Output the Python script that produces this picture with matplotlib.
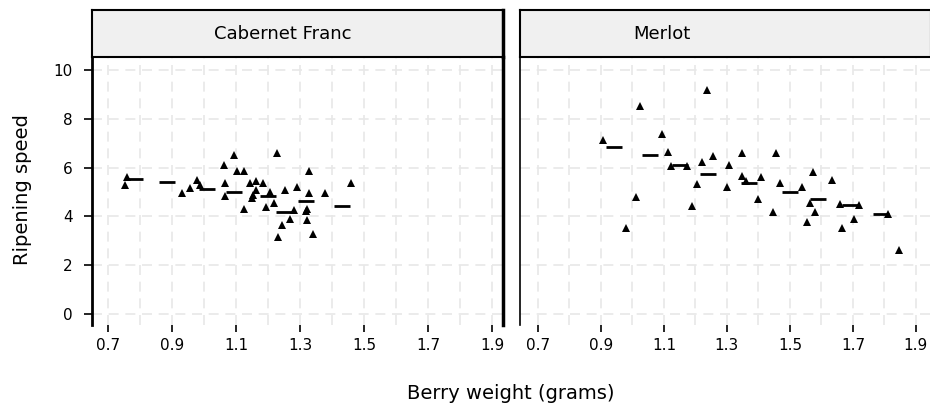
import matplotlib.pyplot as plt

# Cabernet Franc
cf_x = [0.758, 0.753, 0.930, 0.956, 0.977, 0.988, 1.095, 1.063, 1.102, 1.125,
        1.066, 1.066, 1.125, 1.227, 1.144, 1.161, 1.184, 1.153, 1.206, 1.194,
        1.219, 1.253, 1.290, 1.328, 1.329, 1.378, 1.458, 1.243, 1.232, 1.269,
        1.281, 1.321, 1.321, 1.340, 1.163, 1.149, 1.319]
cf_y = [5.63, 5.29, 4.94, 5.15, 5.48, 5.29, 6.52, 6.11, 5.84, 5.84,
        5.36, 4.82, 4.29, 6.61, 5.36, 5.43, 5.36, 4.88, 5.01, 4.40,
        4.54, 5.08, 5.22, 5.84, 4.94, 4.94, 5.36, 3.65, 3.14, 3.88,
        4.26, 4.29, 3.85, 3.28, 5.08, 4.74, 4.22]
cf_dash_x = [0.785, 0.885, 1.010, 1.095, 1.200, 1.250, 1.320, 1.430]
cf_dash_y = [5.52, 5.40, 5.12, 5.01, 4.84, 4.16, 4.64, 4.43]

# Merlot
me_x = [0.907, 1.024, 1.236, 1.093, 1.112, 1.124, 1.172, 1.220, 1.257, 1.307,
        1.206, 1.299, 1.011, 1.188, 0.978, 1.347, 1.456, 1.347, 1.407, 1.360,
        1.400, 1.447, 1.468, 1.537, 1.574, 1.635, 1.563, 1.579, 1.555, 1.660,
        1.720, 1.704, 1.666, 1.811, 1.846]
me_y = [7.11, 8.54, 9.18, 7.38, 6.62, 6.07, 6.07, 6.24, 6.48, 6.11,
        5.33, 5.19, 4.78, 4.43, 3.51, 6.61, 6.61, 5.66, 5.60, 5.45,
        4.70, 4.20, 5.36, 5.22, 5.80, 5.48, 4.54, 4.16, 3.78, 4.50,
        4.47, 3.88, 3.51, 4.08, 2.62]
me_dash_x = [0.940, 1.055, 1.150, 1.240, 1.370, 1.500, 1.590, 1.690, 1.790]
me_dash_y = [6.83, 6.52, 6.10, 5.72, 5.35, 5.00, 4.70, 4.47, 4.10]

panels = ["Cabernet Franc", "Merlot"]
xticks = [0.7, 0.9, 1.1, 1.3, 1.5, 1.7, 1.9]
yticks = [0, 2, 4, 6, 8, 10]

fig = plt.figure(figsize=(9.3, 4.11), dpi=100)
W, H = 930, 411

def add_panel(x0, xlim, title, title_pos, px, py, dx, dy, first):
    ax = fig.add_axes([x0 / W, (H - 325) / H, 411 / W, 268 / H])
    ax.set_xlim(*xlim)
    ax.set_ylim(-0.45, 10.53)
    for v in [0.7 + 0.1 * i for i in range(13)]:
        ax.axvline(v, color="#e8e8e8", lw=1.2, dashes=(6, 4), zorder=0)
    for v in yticks:
        ax.axhline(v, color="#e8e8e8", lw=1.2, dashes=(6, 4), zorder=0)
    ax.plot(px, py, "^", color="black", ms=5.5, mew=0, zorder=3)
    ax.plot(dx, dy, "_", color="black", ms=11, mew=2, zorder=3)
    for s in ["top", "bottom"]:
        ax.spines[s].set_visible(False)
    ax.spines["left"].set_linewidth(2 if first else 1.2)
    ax.spines["right"].set_linewidth(2.5 if first else 1.2)
    ax.set_xticks(xticks)
    ax.set_xticklabels([str(t) for t in xticks])
    ax.tick_params(axis="x", length=5, width=1.2, pad=4, labelsize=11)
    if first:
        ax.set_yticks(yticks)
        ax.tick_params(axis="y", length=6, width=1.2, pad=8, labelsize=11)
    else:
        ax.set_yticks([])
    # strip
    sx = fig.add_axes([x0 / W, (H - 57) / H, 411 / W, 47 / H])
    sx.set_xlim(0, 1)
    sx.set_ylim(0, 1)
    sx.set_facecolor("#f0f0f0")
    sx.set_xticks([])
    sx.set_yticks([])
    for s in sx.spines.values():
        s.set_linewidth(1.5)
    if first:
        sx.spines["right"].set_linewidth(2.5)
    sx.text(title_pos, 0.5, title, ha="center", va="center", fontsize=13)
    return ax

add_panel(92, (0.65, 1.934), panels[0], 0.465, cf_x, cf_y, cf_dash_x, cf_dash_y, True)
add_panel(520, (0.643, 1.948), panels[1], 0.345, me_x, me_y, me_dash_x, me_dash_y, False)

fig.text(22 / W, 1 - 190 / H, "Ripening speed", rotation=90, ha="center", va="center", fontsize=14)
fig.text(511 / W, 1 - 393 / H, "Berry weight (grams)", ha="center", va="center", fontsize=14)

fig.savefig("out.png", dpi=100)
